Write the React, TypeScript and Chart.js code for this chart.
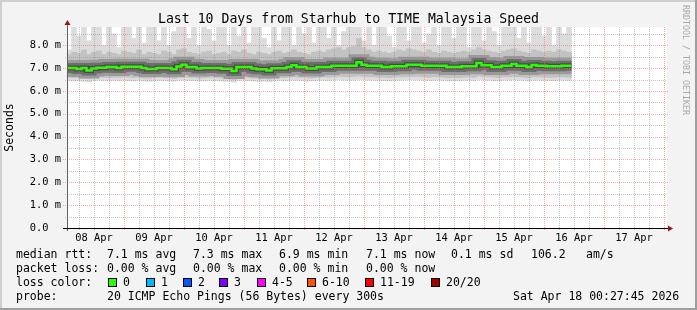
import React, { useEffect, useRef } from 'react';
import { Chart, registerables } from 'chart.js';

Chart.register(...registerables);

// ---------- texts ----------
const chartTitle = 'Last 10 Days from Starhub to TIME Malaysia Speed';
const yAxisTitle = 'Seconds';
const watermark = 'RRDTOOL / TOBI OETIKER';

// ---------- axes ----------
const rangeStartHour = 1.2; // hours after 08 Apr 00:00
const rangeEndHour = 241.2;
const yMax = 8.8;
const xLabels = ['08 Apr', '09 Apr', '10 Apr', '11 Apr', '12 Apr', '13 Apr', '14 Apr', '15 Apr', '16 Apr', '17 Apr'];
const xLabelHours = [12, 36, 60, 84, 108, 132, 156, 180, 204, 228];
const yTickValues = [0, 1, 2, 3, 4, 5, 6, 7, 8];
const yTickLabels = ['0.0\u00a0\u00a0', '1.0 m', '2.0 m', '3.0 m', '4.0 m', '5.0 m', '6.0 m', '7.0 m', '8.0 m'];

// ---------- series (ms), one value per 2-hour bucket ----------
const firstBucketHour = 2;
const bucketHours = 2;

const median = [
  7.0, 7.0, 6.96, 7.0, 6.9, 6.98, 7.02, 7.02, 7.05, 7.05,
  7.0, 7.06, 7.06, 7.06, 7.06, 7.0, 6.96, 6.96, 7.0, 7.0,
  7.0, 6.95, 7.07, 7.15, 7.05, 7.05, 6.98, 7.0, 7.0, 7.0,
  7.0, 6.97, 6.97, 6.87, 7.05, 7.05, 7.05, 6.98, 6.95, 6.95,
  6.9, 6.99, 6.99, 6.99, 7.05, 7.13, 7.05, 7.05, 6.98, 6.98,
  7.05, 7.05, 7.05, 7.1, 7.1, 7.1, 7.1, 7.1, 7.26, 7.15,
  7.1, 7.1, 7.1, 7.05, 7.05, 7.08, 7.08, 7.08, 7.15, 7.15,
  7.15, 7.1, 7.1, 7.1, 7.1, 7.1, 7.05, 7.05, 7.05, 7.08,
  7.08, 7.08, 7.22, 7.12, 7.12, 7.05, 7.05, 7.1, 7.1, 7.18,
  7.1, 7.1, 7.05, 7.14, 7.1, 7.1, 7.08, 7.08, 7.08, 7.1, 7.1,
];

const maxRtt = [
  7.8, 8.9, 8.4, 8.9, 8.2, 8.9, 8.9, 8.0, 8.9, 8.5,
  7.9, 8.9, 8.9, 8.3, 8.9, 8.1, 8.9, 8.9, 8.2, 8.9,
  8.0, 8.6, 8.9, 8.9, 8.3, 8.9, 8.0, 8.9, 8.7, 8.2,
  8.9, 8.9, 8.0, 8.9, 8.4, 8.9, 8.1, 8.9, 8.9, 8.3,
  7.9, 8.9, 8.2, 8.9, 8.9, 8.0, 8.9, 8.5, 8.9, 8.1,
  8.9, 8.9, 8.3, 8.9, 8.0, 8.6, 8.9, 8.9, 8.9, 8.2,
  8.9, 8.0, 8.9, 8.9, 8.4, 7.9, 8.9, 8.9, 8.2, 8.9,
  8.9, 8.1, 8.5, 8.9, 8.0, 8.9, 8.9, 8.3, 8.9, 8.9,
  7.9, 8.9, 8.9, 8.2, 8.9, 8.6, 8.0, 8.9, 8.9, 8.9,
  8.3, 8.9, 8.1, 8.9, 8.9, 8.4, 8.9, 8.0, 8.9, 8.5, 8.9,
];

const upperQ = [
  7.6, 7.7, 7.65, 7.8, 7.6, 7.7, 7.75, 7.6, 7.7, 7.65,
  7.6, 7.75, 7.7, 7.65, 7.8, 7.6, 7.7, 7.65, 7.6, 7.75,
  7.7, 7.6, 7.8, 7.85, 7.7, 7.65, 7.6, 7.7, 7.75, 7.6,
  7.65, 7.7, 7.6, 7.75, 7.7, 7.8, 7.65, 7.6, 7.7, 7.65,
  7.6, 7.7, 7.75, 7.65, 7.7, 7.8, 7.7, 7.65, 7.6, 7.7,
  7.75, 7.7, 7.8, 7.85, 7.9, 7.8, 7.9, 7.95, 8.3, 7.9,
  7.8, 7.7, 7.75, 7.7, 7.65, 7.7, 7.8, 7.75, 7.85, 7.8,
  7.75, 7.7, 7.8, 7.7, 7.65, 7.75, 7.7, 7.65, 7.7, 7.75,
  7.7, 7.8, 7.9, 7.8, 7.75, 7.7, 7.65, 7.75, 7.8, 7.85,
  7.75, 7.7, 7.65, 7.8, 7.75, 7.7, 7.75, 7.7, 7.8, 7.75, 7.7,
];

const midLo = [
  6.6, 6.58, 6.6, 6.56, 6.55, 6.6, 6.62, 6.6, 6.58, 6.6,
  6.6, 6.62, 6.6, 6.58, 6.6, 6.56, 6.55, 6.58, 6.6, 6.6,
  6.58, 6.55, 6.62, 6.62, 6.6, 6.6, 6.56, 6.58, 6.6, 6.6,
  6.58, 6.56, 6.56, 6.5, 6.6, 6.62, 6.6, 6.56, 6.55, 6.56,
  6.52, 6.58, 6.6, 6.58, 6.6, 6.62, 6.6, 6.6, 6.56, 6.58,
  6.6, 6.62, 6.6, 6.62, 6.64, 6.62, 6.62, 6.64, 6.66, 6.64,
  6.62, 6.62, 6.6, 6.6, 6.58, 6.6, 6.62, 6.62, 6.64, 6.64,
  6.64, 6.62, 6.6, 6.62, 6.62, 6.6, 6.58, 6.6, 6.58, 6.6,
  6.62, 6.6, 6.66, 6.64, 6.62, 6.6, 6.58, 6.62, 6.62, 6.64,
  6.62, 6.6, 6.58, 6.62, 6.62, 6.6, 6.6, 6.6, 6.62, 6.62, 6.6,
];

const lowRtt = [
  6.46, 6.44, 6.45, 6.42, 6.4, 6.45, 6.47, 6.46, 6.44, 6.46,
  6.46, 6.47, 6.45, 6.44, 6.46, 6.43, 6.42, 6.44, 6.46, 6.45,
  6.44, 6.42, 6.46, 6.48, 6.46, 6.45, 6.43, 6.44, 6.46, 6.45,
  6.44, 6.43, 6.42, 6.38, 6.46, 6.47, 6.45, 6.43, 6.42, 6.43,
  6.4, 6.44, 6.46, 6.44, 6.45, 6.47, 6.46, 6.45, 6.43, 6.44,
  6.46, 6.47, 6.46, 6.48, 6.5, 6.48, 6.47, 6.48, 6.5, 6.49,
  6.47, 6.47, 6.46, 6.45, 6.44, 6.46, 6.47, 6.48, 6.49, 6.49,
  6.48, 6.47, 6.46, 6.47, 6.47, 6.46, 6.44, 6.45, 6.44, 6.46,
  6.47, 6.46, 6.5, 6.48, 6.47, 6.45, 6.44, 6.47, 6.47, 6.49,
  6.47, 6.46, 6.44, 6.47, 6.47, 6.46, 6.46, 6.45, 6.47, 6.47, 6.46,
];

// ---------- legend ----------
const rttLegend = ['median rtt:', '7.1 ms avg', '7.3 ms max', '6.9 ms min', '7.1 ms now', '0.1 ms sd', '106.2', 'am/s'];
const lossLegend = ['packet loss:', '0.00 % avg', '0.00 % max', '0.00 % min', '0.00 % now'];
const lossColorTitle = 'loss color:';
const lossLabels = ['0', '1', '2', '3', '4-5', '6-10', '11-19', '20/20'];
const lossColors = ['#26ff00', '#00b8ff', '#0059ff', '#7e00ff', '#ff00ff', '#ff5500', '#ff0000', '#a10000'];
const probeLegend = ['probe:', '20 ICMP Echo Pings (56 Bytes) every 300s', 'Sat Apr 18 00:27:45 2026'];

// layout of legend columns (pixels)
const rttX = [16, 107, 193, 279, 366, 451, 531, 586];
const lossX = [16, 107, 193, 279, 366];
const boxX = [108, 146, 183, 219, 257, 307, 365, 431];
const probeX = [16, 107, 513];

const FONT = '"DejaVu Sans Mono", monospace';

const bucketCenter = (i: number) => firstBucketHour + i * bucketHours;
const bucketStart = (i: number) => firstBucketHour - bucketHours / 2 + i * bucketHours;

function stepData(values: number[]) {
  const pts = values.map((v, i) => ({ x: bucketStart(i), y: v }));
  pts.push({ x: bucketStart(values.length), y: values[values.length - 1] });
  return pts;
}

function bandData(lo: number[], hi: number[]) {
  return lo.map((v, i) => ({ x: bucketCenter(i), y: [v, hi[i]] }));
}

function smokeLine(label: string, color: string, width: number) {
  return {
    type: 'line',
    label,
    data: stepData(median),
    borderColor: color,
    borderWidth: width,
    stepped: 'before',
    pointRadius: 0,
    fill: false,
    borderJoinStyle: 'miter',
    clip: 0,
  } as any;
}

const rrdFrame = {
  id: 'rrdFrame',
  beforeDraw(chart: any) {
    const { ctx, width, height, chartArea: a } = chart;
    ctx.save();
    ctx.fillStyle = '#f3f3f3';
    ctx.fillRect(0, 0, width, height);
    ctx.fillStyle = '#cfcfcf';
    ctx.fillRect(0, 0, width, 2);
    ctx.fillRect(0, 0, 2, height);
    ctx.fillStyle = '#9e9e9e';
    ctx.fillRect(0, height - 2, width, 2);
    ctx.fillRect(width - 2, 0, 2, height);
    ctx.fillStyle = '#ffffff';
    ctx.fillRect(a.left, a.top, a.right - a.left, a.bottom - a.top);
    ctx.restore();
  },
  afterDatasetsDraw(chart: any) {
    const { ctx, chartArea: a, scales } = chart;
    const xs = scales.x;
    const ys = scales.y;
    const minorColor = 'rgba(128,128,128,0.45)';
    const majorColor = 'rgba(255,96,96,0.55)';
    ctx.save();
    ctx.lineWidth = 1;
    ctx.setLineDash([1, 1]);
    // horizontal grid
    for (let s = 1; s * 0.5 <= ys.max; s++) {
      const v = s * 0.5;
      const major = s % 2 === 0;
      const py = Math.round(ys.getPixelForValue(v)) + 0.5;
      ctx.strokeStyle = major ? majorColor : minorColor;
      ctx.beginPath();
      ctx.moveTo(a.left - (major ? 4 : 2), py);
      ctx.lineTo(a.right + (major ? 2 : 0), py);
      ctx.stroke();
    }
    // vertical grid
    for (let h = Math.ceil(xs.min / 6) * 6; h <= xs.max; h += 6) {
      const major = h % 24 === 0;
      const px = Math.round(xs.getPixelForValue(h)) + 0.5;
      ctx.strokeStyle = major ? majorColor : minorColor;
      ctx.beginPath();
      ctx.moveTo(px, a.top);
      ctx.lineTo(px, a.bottom + (major ? 3 : 2));
      ctx.stroke();
    }
    ctx.setLineDash([]);
    // y axis
    const ax = a.left + 0.5;
    const ay = Math.round(a.bottom) + 0.5;
    ctx.strokeStyle = '#606060';
    ctx.beginPath();
    ctx.moveTo(ax, a.bottom + 3);
    ctx.lineTo(ax, a.top - 3);
    ctx.stroke();
    // x axis
    ctx.strokeStyle = '#000000';
    ctx.beginPath();
    ctx.moveTo(a.left - 4, ay);
    ctx.lineTo(a.right + 2, ay);
    ctx.stroke();
    // arrows
    ctx.fillStyle = '#921818';
    ctx.beginPath();
    ctx.moveTo(ax, a.top - 7);
    ctx.lineTo(ax - 3, a.top - 2);
    ctx.lineTo(ax + 3, a.top - 2);
    ctx.closePath();
    ctx.fill();
    ctx.beginPath();
    ctx.moveTo(a.right + 6, ay);
    ctx.lineTo(a.right + 1, ay - 3);
    ctx.lineTo(a.right + 1, ay + 3);
    ctx.closePath();
    ctx.fill();
    ctx.restore();
  },
};

export default function App() {
  const ref = useRef<HTMLCanvasElement>(null);

  useEffect(() => {
    const canvas = ref.current;
    if (!canvas) return;
    const chart = new Chart(canvas, {
      type: 'bar',
      data: {
        datasets: [
          {
            type: 'line',
            label: 'median',
            data: stepData(median),
            borderColor: '#26ff00',
            borderWidth: 2.5,
            stepped: 'before',
            pointRadius: 0,
            fill: false,
            borderJoinStyle: 'miter',
            clip: 0,
          } as any,
          smokeLine('smoke core', '#4a4a4a', 5),
          smokeLine('smoke inner', '#6e6e6e', 10),
          smokeLine('smoke mid', '#9a9a9a', 16),
          {
            type: 'bar',
            label: 'smoke quartile',
            data: bandData(midLo, upperQ),
            backgroundColor: '#c2c2c2',
            borderWidth: 0,
            grouped: false,
            barPercentage: 1,
            categoryPercentage: 1,
            clip: 0,
          } as any,
          {
            type: 'bar',
            label: 'smoke range',
            data: bandData(lowRtt, maxRtt),
            backgroundColor: '#dcdcdc',
            borderWidth: 0,
            grouped: false,
            barPercentage: 1,
            categoryPercentage: 1,
            clip: 0,
          } as any,
        ],
      },
      options: {
        responsive: false,
        maintainAspectRatio: false,
        animation: false,
        devicePixelRatio: 1,
        layout: { padding: { left: 0, right: 30, top: 27, bottom: 0 } },
        plugins: {
          legend: { display: false },
          title: { display: false },
          tooltip: { enabled: false },
        },
        scales: {
          x: {
            type: 'linear',
            min: rangeStartHour,
            max: rangeEndHour,
            offset: false,
            grid: { display: false, drawTicks: false },
            border: { display: false },
            afterBuildTicks: (scale: any) => {
              scale.ticks = xLabelHours.map((h) => ({ value: h }));
            },
            afterFit: (scale: any) => {
              scale.height = 82;
            },
            ticks: {
              autoSkip: false,
              maxRotation: 0,
              minRotation: 0,
              padding: 4,
              color: '#000000',
              font: { family: FONT, size: 10.4 },
              callback: (_v: any, i: number) => xLabels[i],
            },
          },
          y: {
            type: 'linear',
            min: 0,
            max: yMax,
            grid: { display: false, drawTicks: false },
            border: { display: false },
            afterBuildTicks: (scale: any) => {
              scale.ticks = yTickValues.map((v) => ({ value: v }));
            },
            afterFit: (scale: any) => {
              scale.width = 67;
            },
            title: {
              display: true,
              text: yAxisTitle,
              color: '#000000',
              font: { family: FONT, size: 11.5 },
              padding: { top: 3, bottom: 0 },
            },
            ticks: {
              padding: 6,
              color: '#000000',
              font: { family: FONT, size: 10.4 },
              callback: (_v: any, i: number) => yTickLabels[i],
            },
          },
        },
      },
      plugins: [rrdFrame],
    } as any);
    return () => chart.destroy();
  }, []);

  const row = (top: number): React.CSSProperties => ({
    position: 'absolute',
    top,
    fontSize: 11.5,
    lineHeight: '14px',
    whiteSpace: 'pre',
  });

  return (
    <div
      style={{
        position: 'absolute',
        left: 0,
        top: 0,
        width: 697,
        height: 310,
        overflow: 'hidden',
        fontFamily: FONT,
        color: '#000',
      }}
    >
      <canvas ref={ref} width={697} height={310} style={{ position: 'absolute', left: 0, top: 0, width: 697, height: 310 }} />
      <div
        style={{
          position: 'absolute',
          left: 0,
          top: 10.7,
          width: 697,
          textAlign: 'center',
          fontSize: 13.2,
          lineHeight: '16px',
          whiteSpace: 'pre',
        }}
      >
        {chartTitle}
      </div>
      <div
        style={{
          position: 'absolute',
          left: 680,
          top: 5,
          width: 11,
          writingMode: 'vertical-rl',
          fontSize: 8.3,
          lineHeight: '11px',
          color: '#a8a8a8',
          whiteSpace: 'pre',
        }}
      >
        {watermark}
      </div>
      {rttLegend.map((t, i) => (
        <div key={'r' + i} style={{ ...row(247.3), left: rttX[i] }}>
          {t}
        </div>
      ))}
      {lossLegend.map((t, i) => (
        <div key={'l' + i} style={{ ...row(261.3), left: lossX[i] }}>
          {t}
        </div>
      ))}
      <div style={{ ...row(275.3), left: 16 }}>{lossColorTitle}</div>
      {lossLabels.map((t, i) => (
        <React.Fragment key={'c' + i}>
          <div
            style={{
              position: 'absolute',
              left: boxX[i],
              top: 278,
              width: 7,
              height: 7,
              background: lossColors[i],
              border: '1px solid #000',
            }}
          />
          <div style={{ ...row(275.3), left: boxX[i] + 15 }}>{t}</div>
        </React.Fragment>
      ))}
      {probeLegend.map((t, i) => (
        <div key={'p' + i} style={{ ...row(289.3), left: probeX[i] }}>
          {t}
        </div>
      ))}
    </div>
  );
}
